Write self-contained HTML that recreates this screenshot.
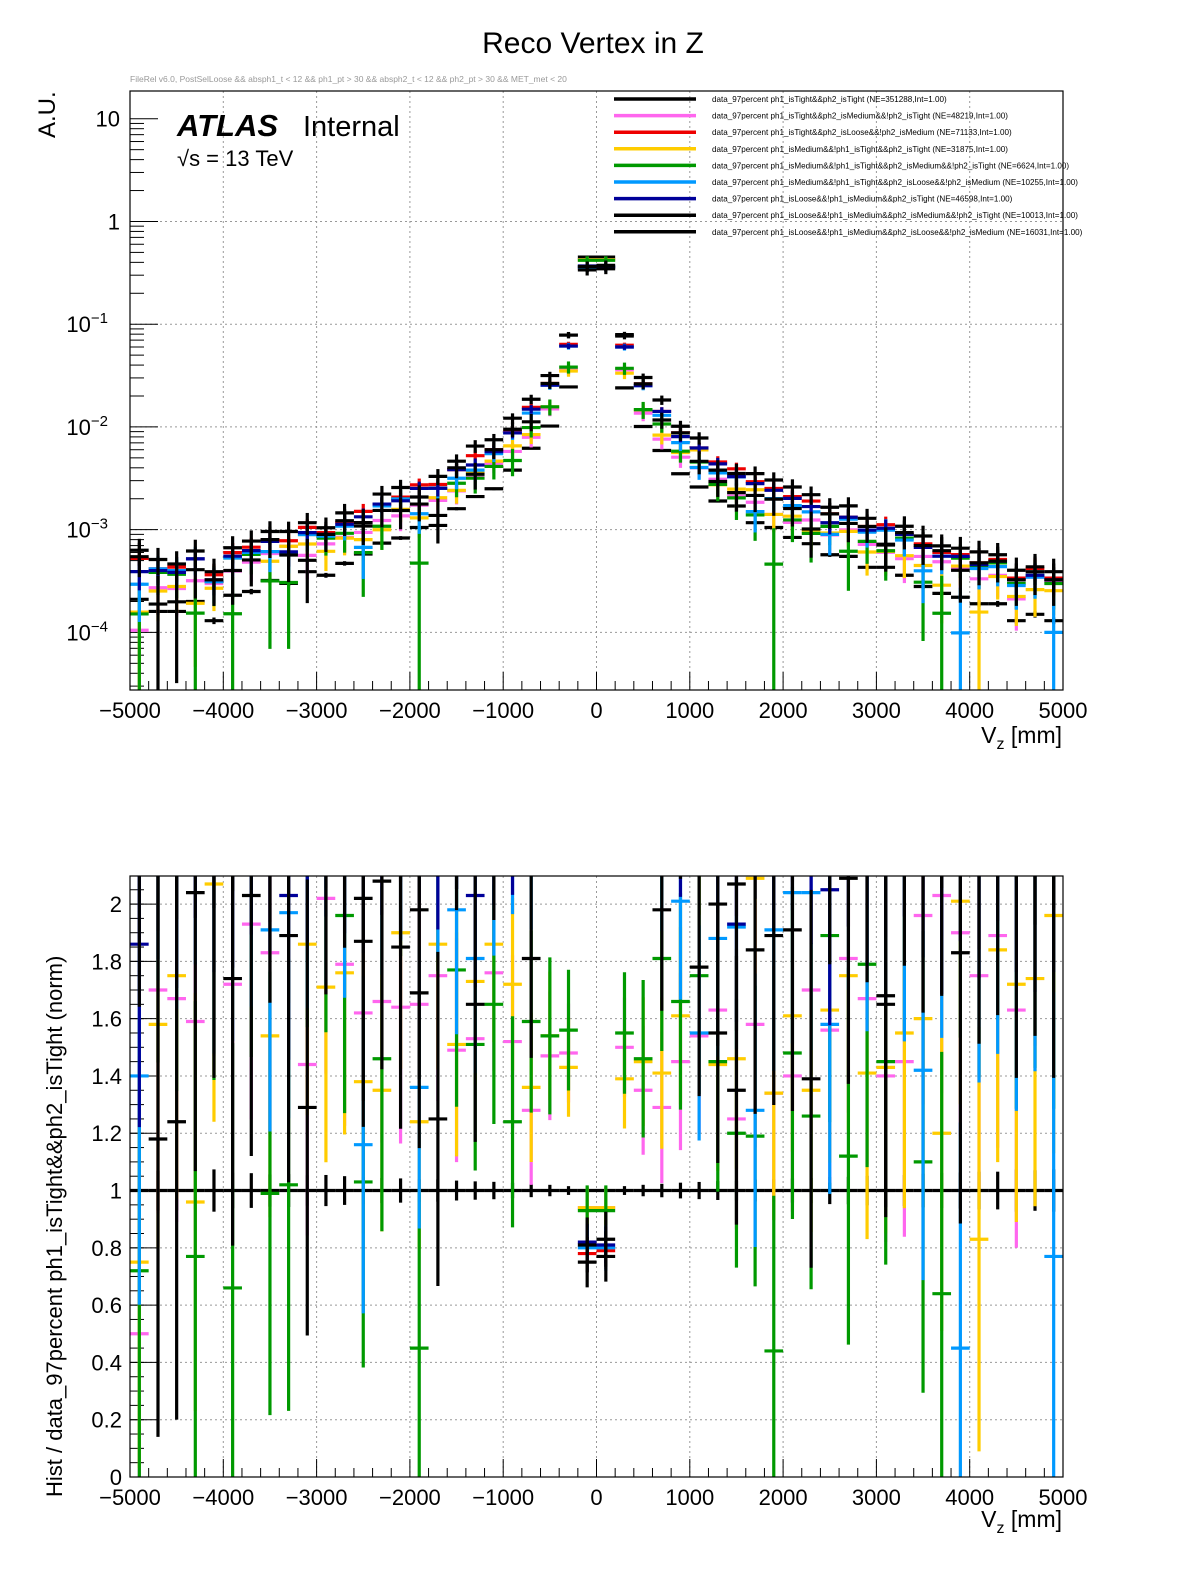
<!DOCTYPE html>
<html><head><meta charset="utf-8">
<style>
html,body{margin:0;padding:0;background:#fff;}
svg{display:block;font-family:"Liberation Sans",sans-serif;}
</style></head>
<body>
<svg id="c" width="1196" height="1572" viewBox="0 0 1196 1572" xmlns="http://www.w3.org/2000/svg">
<text x="593" y="53" font-size="30" text-anchor="middle">Reco Vertex in Z</text>
<text x="130" y="82" font-size="8.5" fill="#999">FileRel v6.0, PostSelLoose &amp;&amp; absph1_t &lt; 12 &amp;&amp; ph1_pt &gt; 30 &amp;&amp; absph2_t &lt; 12 &amp;&amp; ph2_pt &gt; 30 &amp;&amp; MET_met &lt; 20</text>
<g id="topplot"></g>
<g id="botplot"></g>
<text x="177" y="136" font-size="31" font-weight="bold" font-style="italic">ATLAS</text>
<text x="303" y="136" font-size="29">Internal</text>
<text x="177" y="166" font-size="22">√s = 13 TeV</text>
<text transform="translate(55,138) rotate(-90)" font-size="24">A.U.</text>
<text x="1062" y="743" font-size="23" text-anchor="end">V<tspan font-size="16" dy="6">z</tspan><tspan dy="-6"> [mm]</tspan></text>
<text x="1062" y="1527" font-size="23" text-anchor="end">V<tspan font-size="16" dy="6">z</tspan><tspan dy="-6"> [mm]</tspan></text>
<text transform="translate(62,1497) rotate(-90)" font-size="22">Hist / data_97percent  ph1_isTight&amp;&amp;ph2_isTight (norm)</text>
</svg>
<script>
const binEdgesLow = -5000, binWidth = 200;
const refVals = [2.1e-4,1.6e-4,1.6e-4,2.0e-4,1.3e-4,2.3e-4,2.5e-4,3.2e-4,3.0e-4,3.9e-4,3.6e-4,4.7e-4,5.8e-4,7.4e-4,8.3e-4,1.05e-3,1.1e-3,1.6e-3,2.1e-3,2.5e-3,3.8e-3,6.2e-3,1.02e-2,2.45e-2,0.45,
0.45,2.4e-2,1.01e-2,5.9e-3,3.5e-3,2.6e-3,1.9e-3,1.7e-3,1.17e-3,1.05e-3,8.4e-4,7.3e-4,5.7e-4,5.5e-4,4.3e-4,4.3e-4,3.6e-4,2.8e-4,2.4e-4,2.2e-4,1.9e-4,1.9e-4,1.3e-4,1.5e-4,1.3e-4];
const pinkRatio = [0.50,1.70,1.67,1.59,2.3,1.72,1.93,1.83,2.3,1.44,2.02,1.79,1.62,1.66,1.64,1.65,1.75,1.49,1.53,1.76,1.52,1.28,1.47,1.48,0.94,0.94,1.50,1.35,1.29,1.45,1.54,1.63,1.25,1.58,1.34,1.40,1.70,1.56,1.81,1.67,1.40,1.45,1.96,2.03,1.90,1.75,1.89,1.63,2.3,2.4];
const redRatio = [2.5,2.6,2.7,2.6,2.8,2.6,2.7,2.5,2.6,2.7,2.6,2.5,2.6,2.4,2.5,2.6,2.5,2.4,2.5,2.4,2.4,2.5,2.6,2.6,0.78,0.79,2.6,2.6,2.4,2.5,2.4,2.4,2.3,2.5,2.4,2.5,2.6,2.5,2.4,2.5,2.6,2.5,2.6,2.5,2.6,2.5,2.7,2.6,2.8,2.6];
const yellowRatio = [0.75,1.58,1.75,0.96,2.07,2.3,2.4,1.54,2.3,1.86,1.71,1.76,1.38,1.35,1.90,1.24,1.86,1.51,1.73,1.86,1.72,1.36,1.54,1.43,0.94,0.94,1.39,1.45,1.41,1.61,2.3,1.44,1.46,2.09,1.34,1.61,1.35,1.63,1.75,1.41,1.43,1.55,1.60,1.20,2.01,0.83,1.84,1.72,1.74,1.96];
const greenRatio = [0.72,2.4,2.3,0.77,2.4,0.66,2.3,0.99,1.02,2.3,2.3,1.96,1.03,1.46,2.4,0.45,2.3,1.77,1.51,1.65,1.24,1.59,1.54,1.56,0.93,0.93,1.55,1.46,1.81,1.66,1.75,1.45,1.20,1.19,0.44,1.48,1.26,1.89,1.12,1.79,1.45,2.3,1.10,0.64,2.4,2.3,2.5,2.3,2.4,2.3];
const blueRatio = [1.40,2.6,2.5,2.6,2.4,2.3,2.4,1.91,1.97,2.3,2.4,2.3,1.16,2.3,2.4,1.36,2.3,1.98,1.81,2.2,2.3,2.2,2.5,2.5,0.80,0.80,2.5,2.5,2.2,2.01,1.55,1.88,1.92,1.28,1.91,2.04,2.04,1.58,2.3,2.2,2.3,2.2,1.42,2.3,0.45,2.2,2.3,2.2,2.3,0.77];
const navyRatio = [1.86,2.5,2.4,2.6,2.5,2.4,2.5,2.4,2.03,2.4,2.5,2.4,2.3,2.4,2.3,2.4,2.3,2.4,2.03,2.3,2.3,2.4,2.5,2.5,0.82,0.81,2.5,2.5,2.4,2.3,2.4,2.3,1.93,2.4,2.3,2.4,2.3,2.05,2.4,2.3,2.4,2.5,2.4,2.3,2.5,2.4,2.6,2.5,2.4,2.5];
const black2Ratio = [2.6,1.18,1.24,2.04,2.5,1.74,2.03,2.5,1.89,1.29,2.5,2.6,2.02,2.08,1.85,1.98,1.25,2.5,1.65,2.4,2.5,1.81,2.6,3.2,0.81,0.83,3.2,2.6,1.98,2.5,1.78,2.00,2.07,1.84,1.89,1.91,1.39,2.5,2.09,2.5,1.68,2.6,2.5,2.6,1.83,2.5,2.6,2.5,2.6,2.5];
const black3Ratio = [3.0,3.2,2.9,3.1,3.0,2.9,3.1,3.0,3.2,3.0,2.9,3.1,1.87,3.0,3.1,1.69,3.0,2.9,3.1,3.0,3.2,3.0,3.1,3.2,0.75,0.77,3.3,3.0,3.1,2.9,3.0,1.55,1.35,3.0,2.9,3.1,3.0,2.9,3.1,3.0,1.65,3.0,3.1,2.9,3.0,3.2,3.0,3.1,2.9,3.0];
const seriesColors = ["#000000","#ff66ee","#ee0000","#ffcc00","#009900","#0099ff","#000099","#000000","#000000"];
const legendLabels = [
"data_97percent  ph1_isTight&&ph2_isTight (NE=351288,Int=1.00)",
"data_97percent  ph1_isTight&&ph2_isMedium&&!ph2_isTight (NE=48219,Int=1.00)",
"data_97percent  ph1_isTight&&ph2_isLoose&&!ph2_isMedium (NE=71133,Int=1.00)",
"data_97percent  ph1_isMedium&&!ph1_isTight&&ph2_isTight (NE=31875,Int=1.00)",
"data_97percent  ph1_isMedium&&!ph1_isTight&&ph2_isMedium&&!ph2_isTight (NE=6624,Int=1.00)",
"data_97percent  ph1_isMedium&&!ph1_isTight&&ph2_isLoose&&!ph2_isMedium (NE=10255,Int=1.00)",
"data_97percent  ph1_isLoose&&!ph1_isMedium&&ph2_isTight (NE=46598,Int=1.00)",
"data_97percent  ph1_isLoose&&!ph1_isMedium&&ph2_isMedium&&!ph2_isTight (NE=10013,Int=1.00)",
"data_97percent  ph1_isLoose&&!ph1_isMedium&&ph2_isLoose&&!ph2_isMedium (NE=16031,Int=1.00)"];
const seriesNames = ["tight-tight","tight-medium","tight-loose","medium-tight","medium-medium","medium-loose","loose-tight","loose-medium","loose-loose"];
const errScale = [0.04,0.45,0.4,0.45,0.55,0.5,0.4,0.6,0.55];
const xTicks = [-5000,-4000,-3000,-2000,-1000,0,1000,2000,3000,4000,5000];
const ratioTicks = [0,0.2,0.4,0.6,0.8,1,1.2,1.4,1.6,1.8,2];

const NS="http://www.w3.org/2000/svg";
const X0=130,X1=1063;
const TY0=91,TY1=690, BY0=876,BY1=1477;
const xs = v => X0 + (v+5000)/10000*(X1-X0);
const LOGMIN=Math.log10(2.75e-5), LOGMAX=1.27;
const ty = v => TY1 - (Math.log10(v)-LOGMIN)/(LOGMAX-LOGMIN)*(TY1-TY0);
const RMAX=2.098;
const by = r => BY1 - r/RMAX*(BY1-BY0);
function mk(parent,tag,attrs){const e=document.createElementNS(NS,tag);for(const k in attrs)e.setAttribute(k,attrs[k]);parent.appendChild(e);return e;}
const ratios=[refVals.map(()=>1),pinkRatio,redRatio,yellowRatio,greenRatio,blueRatio,navyRatio,black2Ratio,black3Ratio];

function drawFrame(g,y0,y1){
  xTicks.forEach((t,i)=>{ if(i>0&&i<xTicks.length-1){const l=mk(g,'line',{x1:xs(t),x2:xs(t),y1:y0,y2:y1,stroke:'#999','stroke-dasharray':'2,3','stroke-width':1});
    
    }});
  for(let v=-5000;v<=5000;v+=200){const major=v%1000===0;const t=mk(g,'line',{x1:xs(v),x2:xs(v),y1:y1,y2:y1-(major?18:9),stroke:'#000','stroke-width':1});
    
    }
  xTicks.forEach(t=>{const tx=mk(g,'text',{x:xs(t),y:y1+28,'font-size':22,'text-anchor':'middle'});tx.textContent=(t<0?'\u2212':'')+Math.abs(t);
    
    });
}
const topG=document.getElementById('topplot'), botG=document.getElementById('botplot');
drawFrame(topG,TY0,TY1);
drawFrame(botG,BY0,BY1);
for(let d=-4;d<=1;d++){
  const y=ty(Math.pow(10,d));
  if(d<1){const l=mk(topG,'line',{x1:X0,x2:X1,y1:y,y2:y,stroke:'#999','stroke-dasharray':'2,3'});
    
    }
  const tk=mk(topG,'line',{x1:X0,x2:X0+28,y1:y,y2:y,stroke:'#000'});
  
  
  const tx=mk(topG,'text',{x:120,y:y+8,'font-size':22,'text-anchor':'end'});
  
  
  if(d===1)tx.textContent='10'; else if(d===0)tx.textContent='1';
  else {tx.setAttribute('x',108);tx.textContent='10';const s=mk(tx,'tspan',{'font-size':15,dy:-9});s.textContent='\u2212'+(-d);}
}
for(let d=-5;d<=1;d++)for(let m=2;m<=9;m++){const v=m*Math.pow(10,d);const y=ty(v);if(y<TY0||y>TY1)continue;
  const tk=mk(topG,'line',{x1:X0,x2:X0+14,y1:y,y2:y,stroke:'#000'});
  
  }
ratioTicks.forEach(r=>{const y=by(r);
  if(r>0){const l=mk(botG,'line',{x1:X0,x2:X1,y1:y,y2:y,stroke:'#999','stroke-dasharray':'2,3'});
    
    }
  const tk=mk(botG,'line',{x1:X0,x2:X0+28,y1:y,y2:y,stroke:'#000'});
  
  
  const tx=mk(botG,'text',{x:122,y:y+8,'font-size':22,'text-anchor':'end'});tx.textContent=String(r);
  
  });
for(let r=0.05;r<2.1;r+=0.05){const y=by(r);const tk=mk(botG,'line',{x1:X0,x2:X0+14,y1:y,y2:y,stroke:'#000'});
  
  }

const defs=mk(document.getElementById('c'),'defs',{});
const c1=mk(defs,'clipPath',{id:'ct'});mk(c1,'rect',{x:X0,y:TY0,width:X1-X0,height:TY1-TY0});
const c2=mk(defs,'clipPath',{id:'cb'});mk(c2,'rect',{x:X0,y:BY0,width:X1-X0,height:BY1-BY0});
const tm=mk(topG,'g',{'clip-path':'url(#ct)'});


const bm=mk(botG,'g',{'clip-path':'url(#cb)'});



[0,1,2,3,4,5,6,7,8].forEach(s=>{
  const col=seriesColors[s];
  const gt=mk(tm,'g',{stroke:col,'stroke-width':3.2});
  
  
  const gb=mk(bm,'g',{stroke:col,'stroke-width':3.2});
  
  
  ratios[s].forEach((r,i)=>{
    const lo=binEdgesLow+i*binWidth, hi=lo+binWidth, c=(lo+hi)/2;
    const ref=refVals[i];
    const er=errScale[s]/Math.pow(ref*1000,0.3);
    const v=ref*r, ev=ref*er;
    const y=ty(v), yhi=ty(v+ev), ylo=(v-ev>0)?ty(v-ev):TY1+10;
    const h=mk(gt,'line',{x1:xs(lo),x2:xs(hi),y1:y,y2:y});
    
    
    const vv=mk(gt,'line',{x1:xs(c),x2:xs(c),y1:yhi,y2:ylo});
    
    
    const yb=by(r);
    const hb=mk(gb,'line',{x1:xs(lo),x2:xs(hi),y1:yb,y2:yb});
    
    
    const vb=mk(gb,'line',{x1:xs(c),x2:xs(c),y1:by(r+er),y2:by(Math.max(r-er,-0.1))});
    
    
  });
});
[[TY0,TY1,topG],[BY0,BY1,botG]].forEach(([a,b,g])=>{const r=mk(g,'rect',{x:X0,y:a,width:X1-X0,height:b-a,fill:'none',stroke:'#000','stroke-width':1.2});
  
  });
const lg=mk(document.getElementById('c'),'g',{});


legendLabels.forEach((t,i)=>{const y=99+i*16.6;
  const e=mk(lg,'g',{});
  
  
  mk(e,'line',{x1:614,x2:696,y1:y,y2:y,stroke:seriesColors[i],'stroke-width':3.5});
  const tx=mk(e,'text',{x:712,y:y+3,'font-size':8.1});tx.textContent=t;});
</script>
</body></html>
